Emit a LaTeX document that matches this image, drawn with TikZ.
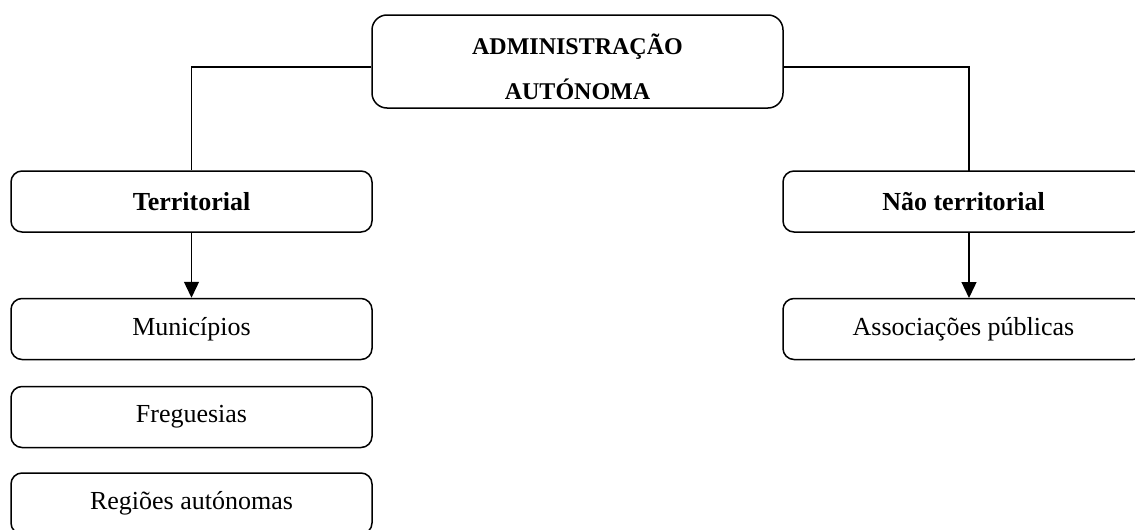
\documentclass[tikz,border=0pt]{standalone}
\usepackage{fontspec}
\setmainfont{Liberation Serif}
\usetikzlibrary{arrows.meta}
\begin{document}
\begin{tikzpicture}[x=1pt,y=-1pt,
  box/.style={draw, line width=1.5pt, rounded corners=11pt, inner sep=0pt,
    minimum width=361pt, minimum height=61pt, font=\fontsize{26}{30}\selectfont},
  bbox/.style={box, font=\fontsize{26}{30}\selectfont\bfseries},
  conn/.style={line width=1.2pt},
  arr/.style={line width=1.4pt, -{Triangle[length=16pt,width=15pt]}}]
\clip (0,0) rectangle (1135,530);
\fill[white] (0,0) rectangle (1135,530);
% top box
\node[box, rounded corners=15pt, minimum width=411pt, minimum height=93pt] (top) at (577.5,61.5) {};
\node[anchor=base, font=\fontsize{24}{28}\selectfont\bfseries, inner sep=0pt] (t1) at (577.5,54) {ADMINISTRAÇÃO};
\node[anchor=base, font=\fontsize{24}{28}\selectfont\bfseries, inner sep=0pt] (t2) at (577.5,99) {AUTÓNOMA};
% second level
\node[bbox] (ter) at (191.5,201.5) {Territorial};
\node[bbox] (nter) at (963.5,201.5) {Não territorial};
% third level
\node[box] (mun) at (191.5,329) {Municípios};
\node[box] (fre) at (191.5,417) {Freguesias};
\node[box] (reg) at (191.5,503.5) {Regiões autónomas};
\node[box] (ass) at (963.5,329) {Associações públicas};
\coordinate (nt) at (969,171);
\coordinate (ntb) at (969,232);
\coordinate (asst) at (969,298);
% connectors
\draw[conn] ([yshift=-5.5pt]top.west) -| (ter.north);
\draw[conn] ([yshift=-5.5pt]top.east) -| (nt);
\draw[arr] (ter.south) -- (mun.north);
\draw[arr] (ntb) -- (asst);
\end{tikzpicture}
\end{document}
